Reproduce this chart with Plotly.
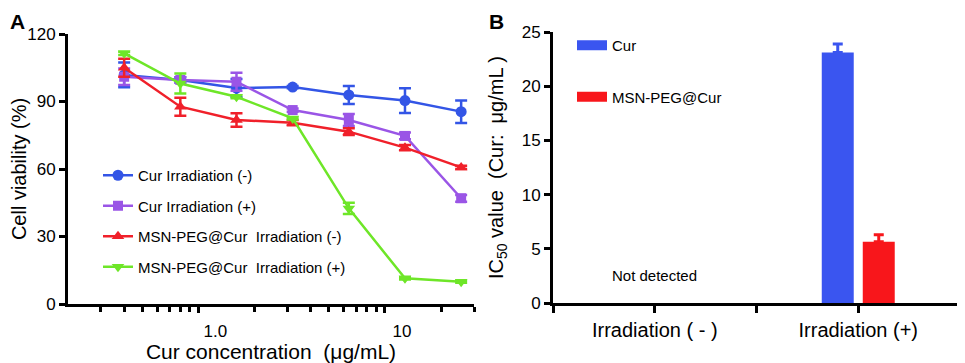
import plotly.graph_objects as go

# ---------------- Data ----------------
conc = [0.4, 0.8, 1.6, 3.2, 6.4, 12.8, 25.6]

cur_dark = [101.8, 99.6, 96.0, 96.4, 92.9, 90.4, 85.5]
cur_dark_err = [5.5, 1.2, 4.0, 0.5, 4.0, 5.5, 5.0]

cur_light = [101.0, 99.6, 98.8, 86.2, 81.8, 74.7, 47.0]
cur_light_err = [3.7, 1.2, 4.0, 0.7, 2.7, 1.5, 1.5]

msn_dark = [105.0, 87.7, 81.8, 80.6, 76.6, 69.5, 60.7]
msn_dark_err = [4.0, 4.0, 3.0, 1.2, 1.5, 1.2, 0.7]

msn_light = [111.4, 98.0, 92.1, 82.5, 42.5, 11.4, 9.9]
msn_light_err = [0.7, 4.4, 0.7, 0.5, 2.5, 0.5, 0.5]

series_names = ["Cur Irradiation (-)", "Cur Irradiation (+)",
                "MSN-PEG@Cur  Irradiation (-)", "MSN-PEG@Cur  Irradiation (+)"]

ic50_categories = ["Irradiation ( - )", "Irradiation (+)"]
ic50_cur = [None, 23.1]
ic50_cur_err = [0, 0.8]
ic50_msn = [None, 5.65]
ic50_msn_err = [0, 0.65]

x_tick_vals = [1, 10]
x_tick_text = ["1.0", "10"]
x_minor_vals = [0.3, 0.4, 0.5, 0.6, 0.7, 0.8, 0.9, 2, 3, 4, 5, 6, 7, 8, 9, 20, 30]

# ---------------- Style ----------------
FONT = "Liberation Sans, Arial, sans-serif"
C_BLUE = "#3355e6"
C_PURPLE = "#9a55e6"
C_RED = "#f0202a"
C_GREEN = "#6ee628"
B_BLUE = "#3a55f0"
B_RED = "#f8161b"

# page body has an 8px margin: figure is drawn offset by OFF px
OFF = 8
W, H = 965 - OFF, 363 - OFF


def px(x):
    return (x - OFF) / W


def py(y):
    return 1 - (y - OFF) / H


fig = go.Figure()

specs = [
    (cur_dark, cur_dark_err, C_BLUE, "circle", 11),
    (cur_light, cur_light_err, C_PURPLE, "square", 10),
    (msn_dark, msn_dark_err, C_RED, "triangle-up", 11),
    (msn_light, msn_light_err, C_GREEN, "triangle-down", 11),
]
for name, (vals, errs, col, sym, sz) in zip(series_names, specs):
    fig.add_trace(go.Scatter(
        x=conc, y=vals, name=name, mode="lines+markers",
        line=dict(color=col, width=2.5),
        marker=dict(color=col, symbol=sym, size=sz),
        error_y=dict(type="data", array=errs, color=col, thickness=2.5, width=6),
        xaxis="x", yaxis="y", legend="legend", legendgroup=name,
    ))

xb = list(range(len(ic50_categories)))
fig.add_trace(go.Bar(
    x=xb, y=ic50_cur, name="Cur", marker=dict(color=B_BLUE, line=dict(width=0)),
    error_y=dict(type="data", symmetric=False, array=ic50_cur_err,
                 arrayminus=[0] * len(xb), color=B_BLUE, thickness=3, width=5),
    xaxis="x2", yaxis="y2", showlegend=False,
))
fig.add_trace(go.Bar(
    x=xb, y=ic50_msn, name="MSN-PEG@Cur", marker=dict(color=B_RED, line=dict(width=0)),
    error_y=dict(type="data", symmetric=False, array=ic50_msn_err,
                 arrayminus=[0] * len(xb), color=B_RED, thickness=3, width=5),
    xaxis="x2", yaxis="y2", showlegend=False,
))
# legend entries for panel B (wide swatches)
for nm, col in [("Cur", B_BLUE), ("MSN-PEG@Cur", B_RED)]:
    fig.add_trace(go.Scatter(
        x=[None], y=[None], name=nm, mode="lines",
        line=dict(color=col, width=14),
        xaxis="x2", yaxis="y2", legend="legend2", legendgroup=nm,
    ))

axis_common = dict(
    showline=True, linecolor="black", linewidth=3, mirror=False,
    ticks="outside", ticklen=6, tickwidth=2.5, tickcolor="black",
    showgrid=False, zeroline=False, automargin=False,
    tickfont=dict(family=FONT, size=17, color="black"),
)

fig.update_layout(
    template="none",
    width=W, height=H,
    margin=dict(l=0, r=0, t=0, b=0),
    paper_bgcolor="white", plot_bgcolor="white",
    font=dict(family=FONT, color="black"),
    barmode="group", bargap=0.597, bargroupgap=0.22,
    xaxis=dict(
        domain=[px(68), px(474)], anchor="y", type="log",
        range=[-0.69897, 1.47712],
        tickmode="array", tickvals=x_tick_vals, ticktext=x_tick_text,
        ticklabelshift=17, ticklabelstandoff=4,
        minor=dict(tickmode="array", tickvals=x_minor_vals, ticks="outside",
                   ticklen=5, tickwidth=2.5, tickcolor="black"),
        title=dict(text="Cur concentration  (μg/mL)", standoff=3,
                   font=dict(family=FONT, size=21, color="black")),
        **axis_common,
    ),
    yaxis=dict(
        domain=[py(304), py(34)], anchor="x",
        range=[0, 120], tickmode="array", tickvals=[0, 30, 60, 90, 120],
        title=dict(text="Cell viability (%)", standoff=5,
                   font=dict(family=FONT, size=20, color="black")),
        **axis_common,
    ),
    xaxis2=dict(
        domain=[px(553), px(960)], anchor="y2", type="linear",
        range=[-0.5, len(ic50_categories) - 0.5],
        tickmode="array", tickvals=xb, ticktext=ic50_categories,
        minor=dict(tickmode="array", tickvals=[-0.5, 0.5, 1.5], ticks="outside",
                   ticklen=7, tickwidth=2.5, tickcolor="black"),
        **{**axis_common, "ticklen": 7,
           "tickfont": dict(family=FONT, size=20, color="black")},
    ),
    yaxis2=dict(
        domain=[py(303), py(32)], anchor="x2",
        range=[0, 25], tickmode="array", tickvals=[0, 5, 10, 15, 20, 25],
        title=dict(text="IC<sub>50</sub> value  (Cur:  μg/mL )", standoff=13,
                   font=dict(family=FONT, size=20, color="black")),
        **axis_common,
    ),
    legend=dict(
        x=px(98), y=py(159), xanchor="left", yanchor="top",
        bgcolor="rgba(0,0,0,0)", font=dict(family=FONT, size=15, color="black"),
        tracegroupgap=8, itemclick=False,
    ),
    legend2=dict(
        x=px(572), y=py(29), xanchor="left", yanchor="top",
        bgcolor="rgba(0,0,0,0)", font=dict(family=FONT, size=15, color="black"),
        tracegroupgap=29,
    ),
    annotations=[
        dict(text="<b>A</b>", x=px(8), y=py(8), xref="paper", yref="paper",
             xanchor="left", yanchor="top", showarrow=False,
             font=dict(family=FONT, size=21, color="black")),
        dict(text="<b>B</b>", x=px(487), y=py(8), xref="paper", yref="paper",
             xanchor="left", yanchor="top", showarrow=False,
             font=dict(family=FONT, size=21, color="black")),
        dict(text="Not detected", x=xb[0], y=2.5, xref="x2", yref="y2",
             showarrow=False, font=dict(family=FONT, size=15, color="black")),
    ],
)

fig.write_html("out.html")
